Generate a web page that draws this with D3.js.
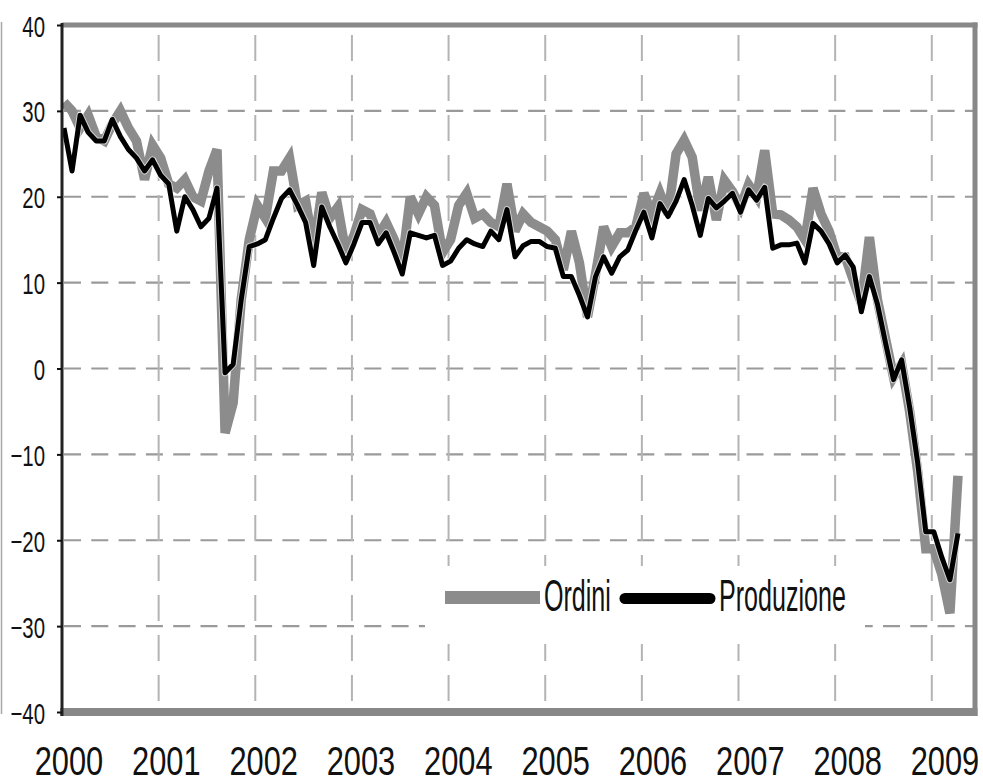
<!DOCTYPE html>
<html>
<head>
<meta charset="utf-8">
<script src="https://cdn.jsdelivr.net/npm/d3@7"></script>
<style>
  html, body { margin: 0; padding: 0; background: #ffffff; }
  svg { display: block; }
  text { font-family: "Liberation Sans", Arial, sans-serif; fill: #111; }
</style>
</head>
<body>
<svg id="chart" width="983" height="783"></svg>
<script>
// ---------- DATA ----------
const startYear = 2000;
const yearLabels = ["2000","2001","2002","2003","2004","2005","2006","2007","2008","2009"];
const gridYears = [2001,2002,2003,2004,2005,2006,2007,2008,2009];
const yTicks = [40,30,20,10,0,-10,-20,-30,-40];
const gridValues = [30,20,10,0,-10,-20,-30];
const seriesNames = ["Ordini","Produzione"];

// monthly values, Jan 2000 - Apr 2009
const ordini = [
  31, 30, 28, 29.5, 27, 26.5, 28.5, 30, 28, 26.5, 22, 26,
  24.5, 21.5, 21, 22, 20, 19.5, 23, 25.5, -7.5, -4, 8, 15,
  19, 17.5, 23, 23, 24.5, 19, 19.5, 14, 20.5, 17.5, 18.8, 13.5,
  15.5, 18.5, 18, 15.5, 17, 15, 12.5, 20, 18, 20, 19, 13.5,
  15, 19, 20.4, 17.5, 18, 17, 16.5, 21.5, 16, 18, 17, 16.5,
  16, 15, 11.5, 16, 12.3, 6, 11, 16.5, 14.2, 15.8, 15.8, 16.5,
  20.4, 18, 20.4, 18, 25, 26.6, 24.6, 18.4, 22.3, 17.3, 21.9, 20.6,
  18.8, 21.4, 20, 25.4, 18, 17.9, 17.3, 16.5, 15, 21, 18, 16,
  13, 13, 10.3, 7.6, 15.3, 8, 3.5, -1, 0.5, -5, -12, -21,
  -21, -24, -28.5, -12.5
];
const produzione = [
  28, 23, 29.5, 27.5, 26.5, 26.5, 29, 27, 25.5, 24.5, 23, 24.3,
  22.5, 21.5, 16, 20, 18.5, 16.5, 17.5, 21, -0.5, 0.5, 8, 14.2,
  14.5, 15, 17.5, 19.8, 20.8, 19, 17, 12, 18.8, 16.5, 14.5, 12.3,
  14.5, 17, 17, 14.5, 15.8, 13.5, 11, 15.8, 15.5, 15.2, 15.5, 12,
  12.5, 14, 15, 14.5, 14.2, 16, 15, 18.5, 13, 14.3, 14.8, 14.8,
  14.2, 14, 10.7, 10.7, 8.5, 6, 10.7, 13, 11.1, 13, 13.8, 16.1,
  18.2, 15.2, 19.2, 17.7, 19.5, 22, 19, 15.5, 19.8, 18.7, 19.5, 20.4,
  18.2, 20.8, 19.6, 21.1, 14, 14.4, 14.4, 14.6, 12.3, 16.9, 16, 14.5,
  12.3, 13.2, 11.8, 6.6, 10.7, 7.5, 3, -1.3, 1, -4.5, -11, -19,
  -19, -22, -24.6, -19.2
];

// ---------- LAYOUT ----------
const svg = d3.select("#chart");
const pLeft = 62, pRight = 975, pTop = 25, pBottom = 712;

const x = d3.scaleLinear().domain([2000, 2009.447]).range([pLeft, pRight]);
const y = d3.scaleLinear().domain([-40, 40]).range([pBottom, pTop]);
const xLab = d3.scalePoint().domain(yearLabels).range([69, 945]);

const monthPos = i => startYear + (i + 0.25) / 12;

// outer thin line at far left
svg.append("line")
  .attr("x1", 1.5).attr("x2", 1.5).attr("y1", 22).attr("y2", 714)
  .attr("stroke", "#a8a8a8").attr("stroke-width", 1.5);

// horizontal grid
svg.append("g").selectAll("line").data(gridValues).join("line")
  .attr("x1", pLeft).attr("x2", pRight)
  .attr("y1", d => y(d)).attr("y2", d => y(d))
  .attr("stroke", "#9a9a9a").attr("stroke-width", 2.2)
  .attr("stroke-dasharray", "17,10.3").attr("stroke-dashoffset", -2);

// vertical grid
svg.append("g").selectAll("line").data(gridYears).join("line")
  .attr("x1", d => x(d)).attr("x2", d => x(d))
  .attr("y1", pTop).attr("y2", pBottom)
  .attr("stroke", "#b4b4b4").attr("stroke-width", 2)
  .attr("stroke-dasharray", "26,14").attr("stroke-dashoffset", -10);

// border (top, right, bottom)
svg.append("line").attr("x1", pLeft).attr("x2", pRight + 2.5)
  .attr("y1", pTop).attr("y2", pTop)
  .attr("stroke", "#888").attr("stroke-width", 5);
svg.append("line").attr("x1", pRight).attr("x2", pRight)
  .attr("y1", pTop - 2.5).attr("y2", pBottom + 4)
  .attr("stroke", "#888").attr("stroke-width", 5);
svg.append("line").attr("x1", pLeft - 2).attr("x2", pRight + 2.5)
  .attr("y1", pBottom).attr("y2", pBottom)
  .attr("stroke", "#888").attr("stroke-width", 8);

// lines
const line = d3.line().x((d, i) => x(monthPos(i))).y(d => y(d));

svg.append("path").datum(ordini)
  .attr("d", line).attr("fill", "none")
  .attr("stroke", "#8c8c8c").attr("stroke-width", 9.5)
  .attr("stroke-linejoin", "miter").attr("stroke-miterlimit", 3);

svg.append("path").datum(produzione)
  .attr("d", line).attr("fill", "none")
  .attr("stroke", "#ffffff").attr("stroke-opacity", 0.6).attr("stroke-width", 7)
  .attr("stroke-linejoin", "round");
svg.append("path").datum(produzione)
  .attr("d", line).attr("fill", "none")
  .attr("stroke", "#000").attr("stroke-width", 5)
  .attr("stroke-linejoin", "round");

// y axis
const yAxis = svg.append("g").attr("transform", `translate(${pLeft},0)`)
  .call(d3.axisLeft(y).tickValues(yTicks).tickSize(5).tickSizeOuter(0).tickFormat(d3.format("d")));
yAxis.select(".domain").attr("stroke", "#222").attr("stroke-width", 3)
  .attr("d", `M0,${pTop - 2}V${pBottom + 4}`);
yAxis.selectAll(".tick line").attr("stroke", "#111").attr("stroke-width", 2);
yAxis.selectAll(".tick text")
  .attr("x", -17 / 0.68).attr("dy", null).attr("y", 11)
  .attr("transform", "scale(0.68,1)")
  .attr("text-anchor", "end")
  .style("font-size", "30px").style("font-family", "'Liberation Sans', Arial, sans-serif")
  .attr("fill", "#111");

// x labels
svg.append("g").selectAll("text").data(yearLabels).join("text")
  .attr("transform", d => `translate(${xLab(d)},774.5) scale(0.77,1)`)
  .attr("text-anchor", "middle")
  .style("font-size", "40px")
  .text(d => d);

// legend
const lg = svg.append("g");
lg.append("rect").attr("x", 425).attr("y", 566).attr("width", 440).attr("height", 78)
  .attr("fill", "#fff");
lg.append("line").attr("x1", 445).attr("x2", 540).attr("y1", 597.5).attr("y2", 597.5)
  .attr("stroke", "#8c8c8c").attr("stroke-width", 13);
lg.append("text").attr("transform", "translate(544,611) scale(0.57,1)")
  .style("font-size", "44px").text(seriesNames[0]);
lg.append("line").attr("x1", 625).attr("x2", 710).attr("y1", 598.5).attr("y2", 598.5)
  .attr("stroke", "#000").attr("stroke-width", 11).attr("stroke-linecap", "round");
lg.append("text").attr("transform", "translate(719,611) scale(0.57,1)")
  .style("font-size", "44px").text(seriesNames[1]);
</script>
</body>
</html>
